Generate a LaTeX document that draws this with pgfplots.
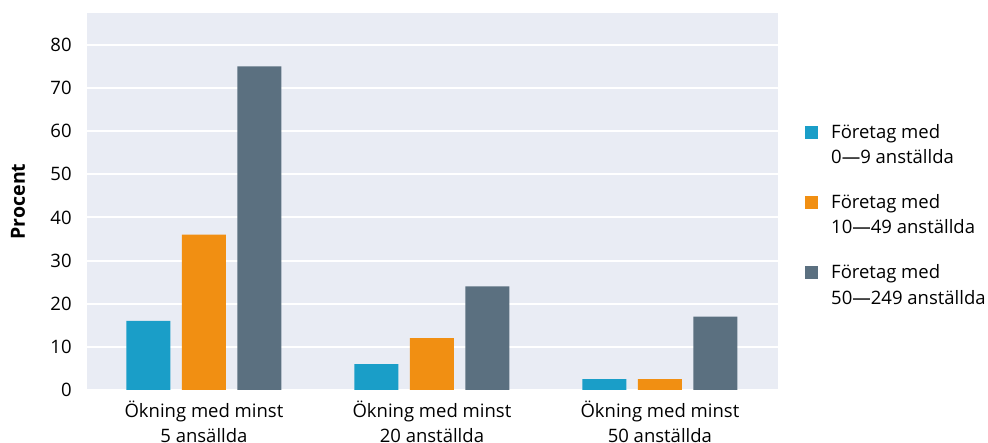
\documentclass[border=0pt]{standalone}
\usepackage{fontspec}
\setmainfont{Open Sans}
\usepackage{pgfplots}
\pgfplotsset{compat=1.18}
\definecolor{cblue}{HTML}{1A9EC8}
\definecolor{corange}{HTML}{F18F12}
\definecolor{cslate}{HTML}{5B7080}
\definecolor{bgcol}{HTML}{E9ECF4}
\pgfplotsset{sq legend/.style={legend image code/.code={\fill[##1,draw=none] (0pt,6.5pt) rectangle (13pt,19.5pt);}}}
\newcommand\fs{\fontsize{18.5}{25.5}\selectfont}
\begin{document}
\fs
\begin{tikzpicture}
\begin{axis}[
  scale only axis, width=691pt, height=377pt,
  xmin=-0.513, xmax=2.518, ymin=0, ymax=87.4,
  ybar=11.5pt, bar width=44pt,
  axis background/.style={fill=bgcol},
  axis line style={draw=none},
  major tick length=0pt,
  ymajorgrids, grid style={white, line width=2pt},
  ytick={0,10,...,80},
  xtick={0,1,2},
  xticklabels={{Ökning med minst\\5 ansällda},{Ökning med minst\\20 anställda},{Ökning med minst\\50 anställda}},
  xticklabel style={align=center, yshift=-4.5pt, font=\fs},
  yticklabel style={xshift=-9pt, font=\fs},
  /pgf/number format/assume math mode=true,
  ylabel={Procent},
  ylabel style={font=\fontsize{19.5}{25}\selectfont\bfseries, at={(axis description cs:-0.0999,0.5)}, anchor=center},
  legend style={draw=none, fill=none, at={(axis description cs:1,0.5)}, anchor=west,
    xshift=27pt, yshift=-14pt, inner sep=0pt, row sep=28pt, column sep=13pt,
    cells={anchor=west, align=left}, nodes={inner sep=0pt, font=\fs}},
]
\addplot[fill=cblue, draw=none, sq legend] coordinates {(0,16) (1,6) (2,2.5)};
\addlegendentry{Företag med\\0—9 anställda}
\addplot[fill=corange, draw=none, sq legend] coordinates {(0,36) (1,12) (2,2.5)};
\addlegendentry{Företag med\\10—49 anställda}
\addplot[fill=cslate, draw=none, sq legend] coordinates {(0,75) (1,24) (2,17)};
\addlegendentry{Företag med\\50—249 anställda}
\end{axis}
\pgfresetboundingbox
\path (current axis.south west) ++(-87pt,-53pt) rectangle ++(988pt,443pt);
\end{tikzpicture}
\end{document}
